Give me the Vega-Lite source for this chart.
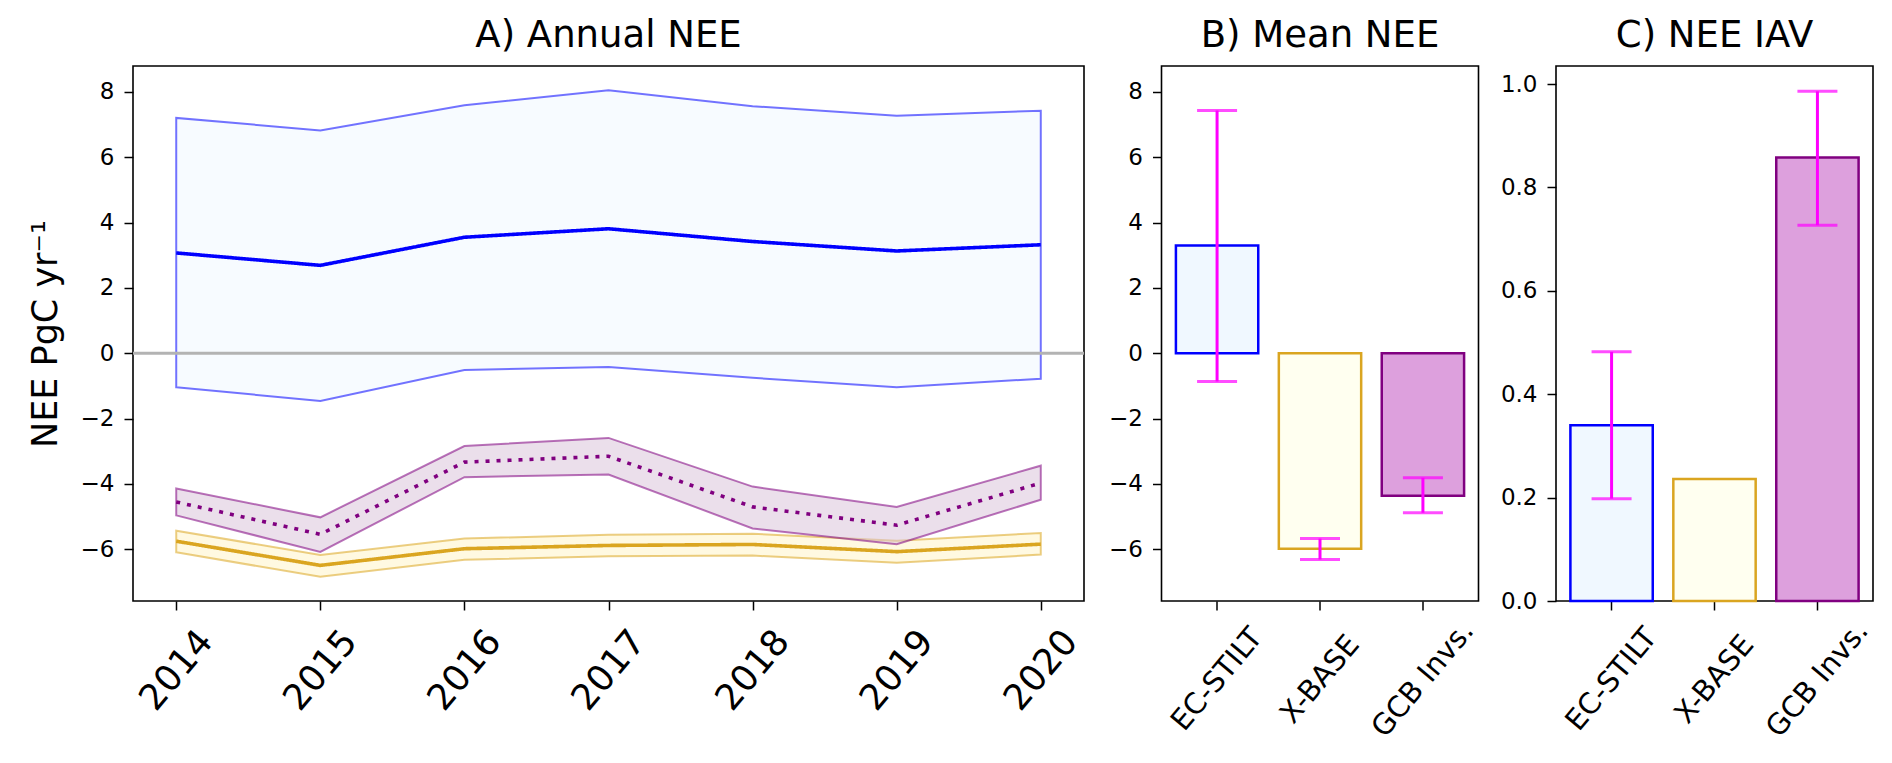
{
  "$schema": "https://vega.github.io/schema/vega-lite/v6.json",
  "padding": {"left": 27, "top": 16, "right": 5, "bottom": 5},
  "background": "white",
  "bounds": "flush",
  "spacing": 77.5,
  "config": {
    "font": "DejaVu Sans",
    "view": {"stroke": "black", "strokeWidth": 1.6},
    "axis": {"grid": false, "domain": false, "tickColor": "black", "tickWidth": 1.5, "tickSize": 9, "labelColor": "black", "labelFont": "DejaVu Sans", "labelFontSize": 23, "labelPadding": 10, "labelOverlap": false, "labelFlush": false, "titleColor": "black", "titleFont": "DejaVu Sans", "titleFontWeight": "normal"},
    "title": {"font": "DejaVu Sans", "fontSize": 37, "fontWeight": "normal", "color": "black", "offset": 11, "baseline": "alphabetic"}
  },
  "datasets": {
    "annual": [
      {"year": 2014, "product": "EC-STILT", "mean": 3.07, "lo": -1.04, "hi": 7.20},
      {"year": 2015, "product": "EC-STILT", "mean": 2.69, "lo": -1.46, "hi": 6.82},
      {"year": 2016, "product": "EC-STILT", "mean": 3.55, "lo": -0.51, "hi": 7.59},
      {"year": 2017, "product": "EC-STILT", "mean": 3.81, "lo": -0.42, "hi": 8.05},
      {"year": 2018, "product": "EC-STILT", "mean": 3.42, "lo": -0.75, "hi": 7.56},
      {"year": 2019, "product": "EC-STILT", "mean": 3.13, "lo": -1.04, "hi": 7.27},
      {"year": 2020, "product": "EC-STILT", "mean": 3.32, "lo": -0.78, "hi": 7.42},
      {"year": 2014, "product": "X-BASE", "mean": -5.75, "lo": -6.09, "hi": -5.43},
      {"year": 2015, "product": "X-BASE", "mean": -6.49, "lo": -6.84, "hi": -6.17},
      {"year": 2016, "product": "X-BASE", "mean": -5.98, "lo": -6.32, "hi": -5.67},
      {"year": 2017, "product": "X-BASE", "mean": -5.88, "lo": -6.21, "hi": -5.55},
      {"year": 2018, "product": "X-BASE", "mean": -5.85, "lo": -6.19, "hi": -5.52},
      {"year": 2019, "product": "X-BASE", "mean": -6.07, "lo": -6.41, "hi": -5.74},
      {"year": 2020, "product": "X-BASE", "mean": -5.84, "lo": -6.16, "hi": -5.50},
      {"year": 2014, "product": "GCB Invs.", "mean": -4.55, "lo": -4.96, "hi": -4.14},
      {"year": 2015, "product": "GCB Invs.", "mean": -5.54, "lo": -6.08, "hi": -5.02},
      {"year": 2016, "product": "GCB Invs.", "mean": -3.33, "lo": -3.79, "hi": -2.84},
      {"year": 2017, "product": "GCB Invs.", "mean": -3.15, "lo": -3.71, "hi": -2.59},
      {"year": 2018, "product": "GCB Invs.", "mean": -4.70, "lo": -5.36, "hi": -4.08},
      {"year": 2019, "product": "GCB Invs.", "mean": -5.26, "lo": -5.84, "hi": -4.70},
      {"year": 2020, "product": "GCB Invs.", "mean": -3.97, "lo": -4.48, "hi": -3.44}
    ],
    "meannee": [
      {"product": "EC-STILT", "value": 3.30, "lo": -0.86, "hi": 7.43},
      {"product": "X-BASE", "value": -5.98, "lo": -6.31, "hi": -5.67},
      {"product": "GCB Invs.", "value": -4.36, "lo": -4.88, "hi": -3.81}
    ],
    "iav": [
      {"product": "EC-STILT", "value": 0.340, "lo": 0.198, "hi": 0.482},
      {"product": "X-BASE", "value": 0.236, "lo": null, "hi": null},
      {"product": "GCB Invs.", "value": 0.858, "lo": 0.727, "hi": 0.986}
    ],
    "zero": [{"ref": 0}]
  },
  "resolve": {"scale": {"x": "independent", "y": "independent", "fill": "independent", "stroke": "independent", "strokeDash": "independent"}},
  "hconcat": [
    {
      "width": 951,
      "height": 535,
      "title": "A) Annual NEE",
      "layer": [
        {
          "data": {"name": "annual"},
          "mark": {"type": "area", "fillOpacity": 0.5, "strokeOpacity": 0.55, "strokeWidth": 2},
          "encoding": {
            "x": {"field": "year", "type": "quantitative", "scale": {"domain": [2013.7, 2020.3], "nice": false, "zero": false},
                  "axis": {"values": [2014, 2015, 2016, 2017, 2018, 2019, 2020], "format": "d", "title": null, "labelAngle": -50, "labelAlign": "center", "labelBaseline": "middle", "labelPadding": 60, "labelFontSize": 36}},
            "y": {"field": "lo", "type": "quantitative", "scale": {"domain": [-7.58, 8.79], "nice": false, "zero": false},
                  "axis": {"values": [-6, -4, -2, 0, 2, 4, 6, 8], "title": "NEE PgC yr⁻¹", "titleFontSize": 35, "titlePadding": 17}},
            "y2": {"field": "hi"},
            "fill": {"field": "product", "type": "nominal", "scale": {"domain": ["EC-STILT", "X-BASE", "GCB Invs."], "range": ["aliceblue", "#fff3c4", "thistle"]}, "legend": null},
            "stroke": {"field": "product", "type": "nominal", "scale": {"domain": ["EC-STILT", "X-BASE", "GCB Invs."], "range": ["blue", "goldenrod", "purple"]}, "legend": null}
          }
        },
        {
          "data": {"name": "zero"},
          "mark": {"type": "rule", "color": "#b3b3b3", "strokeWidth": 3},
          "encoding": {"y": {"field": "ref", "type": "quantitative"}}
        },
        {
          "data": {"name": "annual"},
          "mark": {"type": "line", "strokeWidth": 3.6},
          "encoding": {
            "x": {"field": "year", "type": "quantitative"},
            "y": {"field": "mean", "type": "quantitative"},
            "stroke": {"field": "product", "type": "nominal", "legend": null},
            "strokeDash": {"field": "product", "type": "nominal", "scale": {"domain": ["EC-STILT", "X-BASE", "GCB Invs."], "range": [[1, 0], [1, 0], [4, 7]]}, "legend": null}
          }
        }
      ]
    },
    {
      "width": 317,
      "height": 535,
      "title": "B) Mean NEE",
      "data": {"name": "meannee"},
      "layer": [
        {
          "mark": {"type": "bar", "strokeWidth": 2.5},
          "encoding": {
            "x": {"field": "product", "type": "nominal", "sort": null, "scale": {"domain": ["EC-STILT", "X-BASE", "GCB Invs."], "paddingInner": 0.2, "paddingOuter": 0.14},
                  "axis": {"title": null, "labelAngle": -50, "labelAlign": "center", "labelBaseline": "middle", "labelPadding": 69, "labelFontSize": 29}},
            "y": {"field": "value", "type": "quantitative", "scale": {"domain": [-7.58, 8.79], "nice": false, "zero": false},
                  "axis": {"values": [-6, -4, -2, 0, 2, 4, 6, 8], "title": null}},
            "y2": {"datum": 0},
            "fill": {"field": "product", "type": "nominal", "scale": {"domain": ["EC-STILT", "X-BASE", "GCB Invs."], "range": ["aliceblue", "ivory", "plum"]}, "legend": null},
            "stroke": {"field": "product", "type": "nominal", "scale": {"domain": ["EC-STILT", "X-BASE", "GCB Invs."], "range": ["blue", "goldenrod", "purple"]}, "legend": null}
          }
        },
        {
          "mark": {"type": "rule", "color": "magenta", "strokeWidth": 3},
          "encoding": {"x": {"field": "product", "type": "nominal"}, "y": {"field": "lo", "type": "quantitative"}, "y2": {"field": "hi"}}
        },
        {
          "mark": {"type": "tick", "color": "magenta", "thickness": 3, "size": 40, "orient": "horizontal"},
          "encoding": {"x": {"field": "product", "type": "nominal"}, "y": {"field": "lo", "type": "quantitative"}}
        },
        {
          "mark": {"type": "tick", "color": "magenta", "thickness": 3, "size": 40, "orient": "horizontal"},
          "encoding": {"x": {"field": "product", "type": "nominal"}, "y": {"field": "hi", "type": "quantitative"}}
        }
      ]
    },
    {
      "width": 317,
      "height": 535,
      "title": "C) NEE IAV",
      "data": {"name": "iav"},
      "layer": [
        {
          "mark": {"type": "bar", "strokeWidth": 2.5},
          "encoding": {
            "x": {"field": "product", "type": "nominal", "sort": null, "scale": {"domain": ["EC-STILT", "X-BASE", "GCB Invs."], "paddingInner": 0.2, "paddingOuter": 0.14},
                  "axis": {"title": null, "labelAngle": -50, "labelAlign": "center", "labelBaseline": "middle", "labelPadding": 69, "labelFontSize": 29}},
            "y": {"field": "value", "type": "quantitative", "scale": {"domain": [0, 1.035], "nice": false, "zero": false},
                  "axis": {"values": [0, 0.2, 0.4, 0.6, 0.8, 1.0], "format": ".1f", "title": null}},
            "y2": {"datum": 0},
            "fill": {"field": "product", "type": "nominal", "scale": {"domain": ["EC-STILT", "X-BASE", "GCB Invs."], "range": ["aliceblue", "ivory", "plum"]}, "legend": null},
            "stroke": {"field": "product", "type": "nominal", "scale": {"domain": ["EC-STILT", "X-BASE", "GCB Invs."], "range": ["blue", "goldenrod", "purple"]}, "legend": null}
          }
        },
        {
          "transform": [{"filter": "datum.lo != null"}],
          "mark": {"type": "rule", "color": "magenta", "strokeWidth": 3},
          "encoding": {"x": {"field": "product", "type": "nominal"}, "y": {"field": "lo", "type": "quantitative"}, "y2": {"field": "hi"}}
        },
        {
          "transform": [{"filter": "datum.lo != null"}],
          "mark": {"type": "tick", "color": "magenta", "thickness": 3, "size": 40, "orient": "horizontal"},
          "encoding": {"x": {"field": "product", "type": "nominal"}, "y": {"field": "lo", "type": "quantitative"}}
        },
        {
          "transform": [{"filter": "datum.hi != null"}],
          "mark": {"type": "tick", "color": "magenta", "thickness": 3, "size": 40, "orient": "horizontal"},
          "encoding": {"x": {"field": "product", "type": "nominal"}, "y": {"field": "hi", "type": "quantitative"}}
        }
      ]
    }
  ]
}
